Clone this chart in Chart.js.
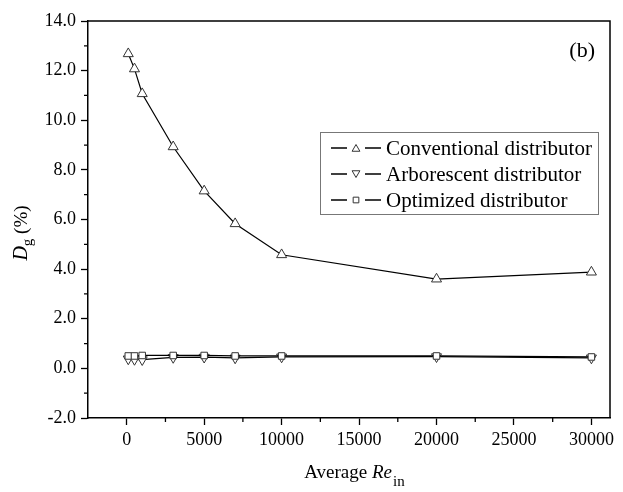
<!DOCTYPE html>
<html>
<head>
<meta charset="utf-8">
<script src="https://cdn.jsdelivr.net/npm/chart.js@4.4.1/dist/chart.umd.min.js"></script>
<style>
  html, body { margin: 0; padding: 0; background: #fff; }
  #wrap { width: 623px; height: 492px; }
</style>
</head>
<body>
<div id="wrap"><canvas id="chart"></canvas></div>
<script>
// data
const reIn = [100, 500, 1000, 3000, 5000, 7000, 10000, 20000, 30000];
const conventional = [12.68, 12.07, 11.07, 8.93, 7.15, 5.83, 4.58, 3.6, 3.88];
const arborescent = [0.38, 0.36, 0.35, 0.44, 0.45, 0.42, 0.46, 0.47, 0.42];
const optimized = [0.5, 0.5, 0.52, 0.52, 0.52, 0.5, 0.5, 0.5, 0.46];
const seriesNames = ['Conventional distributor', 'Arborescent distributor', 'Optimized distributor'];
const xTicks = [0, 5000, 10000, 15000, 20000, 25000, 30000];
const yTicks = [-2, 0, 2, 4, 6, 8, 10, 12, 14];

const SERIF = '"Liberation Serif", "Times New Roman", serif';

const toPoints = ys => reIn.map((x, i) => ({ x, y: ys[i] }));

function drawMarker(ctx, style, cx, cy, r) {
  ctx.beginPath();
  if (style === 'rect') {
    const s = r * Math.SQRT1_2;
    ctx.rect(cx - s, cy - s, 2 * s, 2 * s);
  } else {
    const dir = style === 'down' ? -1 : 1;
    ctx.moveTo(cx, cy - dir * r);
    ctx.lineTo(cx - r * 0.866, cy + dir * r * 0.5);
    ctx.lineTo(cx + r * 0.866, cy + dir * r * 0.5);
    ctx.closePath();
  }
  ctx.fillStyle = '#fff';
  ctx.fill();
  ctx.stroke();
}

// frame, minor ticks, axis titles, legend, panel label
const decorations = {
  id: 'decorations',
  afterDraw(chart) {
    const { ctx, chartArea: a, scales } = chart;
    ctx.save();
    ctx.strokeStyle = '#000';
    ctx.lineWidth = 1.5;
    ctx.beginPath();
    ctx.moveTo(a.left, a.top);
    ctx.lineTo(a.right, a.top);
    ctx.lineTo(a.right, a.bottom);
    ctx.stroke();

    // minor ticks halfway between majors
    ctx.lineWidth = 1.3;
    ctx.beginPath();
    for (let i = 0; i < yTicks.length - 1; i++) {
      const py = scales.y.getPixelForValue((yTicks[i] + yTicks[i + 1]) / 2);
      ctx.moveTo(a.left - 4, py);
      ctx.lineTo(a.left, py);
    }
    for (let i = 0; i < xTicks.length - 1; i++) {
      const px = scales.x.getPixelForValue((xTicks[i] + xTicks[i + 1]) / 2);
      ctx.moveTo(px, a.bottom);
      ctx.lineTo(px, a.bottom + 4);
    }
    ctx.stroke();

    ctx.fillStyle = '#000';
    ctx.textBaseline = 'alphabetic';
    ctx.textAlign = 'left';

    // y title: D_g (%)
    ctx.save();
    ctx.translate(27, 233);
    ctx.rotate(-Math.PI / 2);
    ctx.font = 'italic 20px ' + SERIF;
    const wD = ctx.measureText('D').width;
    ctx.font = '15px ' + SERIF;
    const wg = ctx.measureText('g').width;
    ctx.font = '19px ' + SERIF;
    const wp = ctx.measureText(' (%)').width;
    let tx = -(wD + wg + wp) / 2;
    ctx.font = 'italic 20px ' + SERIF;
    ctx.fillText('D', tx, 0);
    tx += wD;
    ctx.font = '15px ' + SERIF;
    ctx.fillText('g', tx, 5);
    tx += wg;
    ctx.font = '19px ' + SERIF;
    ctx.fillText(' (%)', tx, 0);
    ctx.restore();

    // x title: Average Re_in
    ctx.font = '19px ' + SERIF;
    const wA = ctx.measureText('Average ').width;
    ctx.font = 'italic 19px ' + SERIF;
    const wR = ctx.measureText('Re').width;
    ctx.font = '15px ' + SERIF;
    const wi = ctx.measureText('in').width;
    let xx = 354 - (wA + wR + wi) / 2;
    ctx.font = '19px ' + SERIF;
    ctx.fillText('Average ', xx, 478);
    xx += wA;
    ctx.font = 'italic 19px ' + SERIF;
    ctx.fillText('Re', xx, 478);
    xx += wR + 1;
    ctx.font = '15px ' + SERIF;
    ctx.fillText('in', xx, 486);

    // panel label
    ctx.font = '22px ' + SERIF;
    ctx.textAlign = 'right';
    ctx.fillText('(b)', a.right - 15, 57);

    // legend box
    ctx.textAlign = 'left';
    ctx.strokeStyle = '#777';
    ctx.lineWidth = 1;
    ctx.strokeRect(320.5, 132.5, 278, 82);
    const styles = ['up', 'down', 'rect'];
    ctx.font = '21px ' + SERIF;
    ctx.textBaseline = 'middle';
    seriesNames.forEach((name, i) => {
      const cy = 148 + i * 26;
      ctx.strokeStyle = '#000';
      ctx.lineWidth = 1.3;
      ctx.beginPath();
      ctx.moveTo(331, cy); ctx.lineTo(347, cy);
      ctx.moveTo(365, cy); ctx.lineTo(381, cy);
      ctx.stroke();
      ctx.strokeStyle = '#333';
      ctx.lineWidth = 1;
      drawMarker(ctx, styles[i], 356, cy + (i === 0 ? 1 : i === 1 ? -1 : 0), styles[i] === 'rect' ? 4 : 4.5);
      ctx.fillStyle = '#000';
      ctx.fillText(name, 386, cy + 1);
    });
    ctx.restore();
  }
};

const common = {
  borderColor: '#000',
  borderWidth: 1.2,
  pointBackgroundColor: '#fff',
  pointBorderColor: '#333',
  pointBorderWidth: 1,
  tension: 0
};

new Chart(document.getElementById('chart'), {
  type: 'scatter',
  data: {
    datasets: [
      { ...common, label: seriesNames[2], data: toPoints(optimized), showLine: true, pointStyle: 'rect', pointRadius: 4.6 },
      { ...common, label: seriesNames[1], data: toPoints(arborescent), showLine: true, pointStyle: 'triangle', rotation: 180, pointRadius: 5.8 },
      { ...common, label: seriesNames[0], data: toPoints(conventional), showLine: true, pointStyle: 'triangle', pointRadius: 5.8 }
    ]
  },
  options: {
    responsive: true,
    maintainAspectRatio: false,
    animation: false,
    layout: { padding: { left: 8, right: 13, top: 21, bottom: 0 } },
    plugins: { legend: { display: false }, tooltip: { enabled: false } },
    scales: {
      x: {
        type: 'linear',
        min: -2500,
        max: 31200,
        afterBuildTicks: s => { s.ticks = xTicks.map(v => ({ value: v })); },
        afterFit: s => { s.height = 74; },
        border: { display: true, color: '#000', width: 1.5 },
        grid: { drawOnChartArea: false, drawTicks: true, tickLength: 7, color: '#000', tickWidth: 1.3 },
        ticks: { color: '#000', font: { family: SERIF, size: 18 }, padding: 4, maxRotation: 0, autoSkip: false, callback: v => String(v) }
      },
      y: {
        min: -2,
        max: 14,
        afterBuildTicks: s => { s.ticks = yTicks.map(v => ({ value: v })); },
        afterFit: s => { s.width = 80; },
        border: { display: true, color: '#000', width: 1.5 },
        grid: { drawOnChartArea: false, drawTicks: true, tickLength: 7, color: '#000', tickWidth: 1.3 },
        ticks: { color: '#000', font: { family: SERIF, size: 18 }, padding: 5, autoSkip: false, callback: v => v.toFixed(1) }
      }
    }
  },
  plugins: [decorations]
});
</script>
</body>
</html>
